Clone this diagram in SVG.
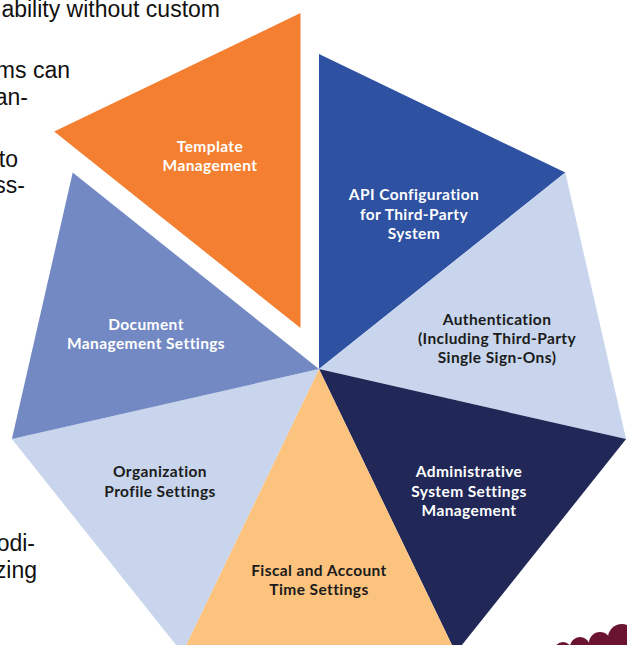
<svg xmlns="http://www.w3.org/2000/svg" width="627" height="645" viewBox="0 0 627 645">
<style>
.bg{font-family:"Liberation Sans",Arial,sans-serif;font-size:23px;fill:#111}
.lbl{font-family:Lato,"Open Sans",sans-serif;font-weight:700;font-size:15.5px;letter-spacing:0.4px;text-anchor:middle}
.w{fill:#ffffff}
.d{fill:#1b1b1b}
.dot{fill:#6a1432}
</style>
<rect width="627" height="645" fill="#ffffff"/>
<g id="background-text" class="bg">
<text x="220" y="17" text-anchor="end">ability without custom</text>
<text x="70" y="78" text-anchor="end">ms can</text>
<text x="28" y="105" text-anchor="end">an-</text>
<text x="18" y="167" text-anchor="end">to</text>
<text x="25" y="193" text-anchor="end">ss-</text>
<text x="35" y="551" text-anchor="end">odi-</text>
<text x="37" y="578" text-anchor="end">zing</text>
</g>
<g id="connectors"></g>
<g id="node-api">
<polygon points="319,369 319,54 565.3,172.6" fill="#2e51a1"/>
<text class="lbl w" x="414" y="200">API Configuration</text>
<text class="lbl w" x="414" y="220">for Third-Party</text>
<text class="lbl w" x="414" y="239">System</text>
</g>
<g id="node-authentication">
<polygon points="319,369 565.3,172.6 626.1,439.1" fill="#c8d5ec"/>
<text class="lbl d" x="497" y="325">Authentication</text>
<text class="lbl d" x="497" y="344">(Including Third-Party</text>
<text class="lbl d" x="497" y="363">Single Sign-Ons)</text>
</g>
<g id="node-administrative">
<polygon points="319,369 626.1,439.1 455.7,652.8" fill="#212857"/>
<text class="lbl w" x="469" y="477">Administrative</text>
<text class="lbl w" x="469" y="497">System Settings</text>
<text class="lbl w" x="469" y="516">Management</text>
</g>
<g id="node-fiscal">
<polygon points="319,369 455.7,652.8 182.3,652.8" fill="#fcc37f"/>
<text class="lbl d" x="319" y="576">Fiscal and Account</text>
<text class="lbl d" x="319" y="595">Time Settings</text>
</g>
<g id="node-organization">
<polygon points="319,369 182.3,652.8 11.9,439.1" fill="#c8d5ec"/>
<text class="lbl d" x="160" y="477">Organization</text>
<text class="lbl d" x="160" y="497">Profile Settings</text>
</g>
<g id="node-document">
<polygon points="319,369 11.9,439.1 72.7,172.6" fill="#7389c3"/>
<text class="lbl w" x="146" y="330">Document</text>
<text class="lbl w" x="146" y="349">Management Settings</text>
</g>
<g id="node-template">
<polygon points="300.5,328 54.2,131.6 300.5,13" fill="#f47f31"/>
<text class="lbl w" x="210" y="152">Template</text>
<text class="lbl w" x="210" y="171">Management</text>
</g>
<g id="dots">
<circle class="dot" cx="563" cy="651" r="9"/>
<circle class="dot" cx="580" cy="647" r="10"/>
<circle class="dot" cx="600" cy="643" r="11"/>
<circle class="dot" cx="622" cy="638" r="14"/>
</g>
</svg>
